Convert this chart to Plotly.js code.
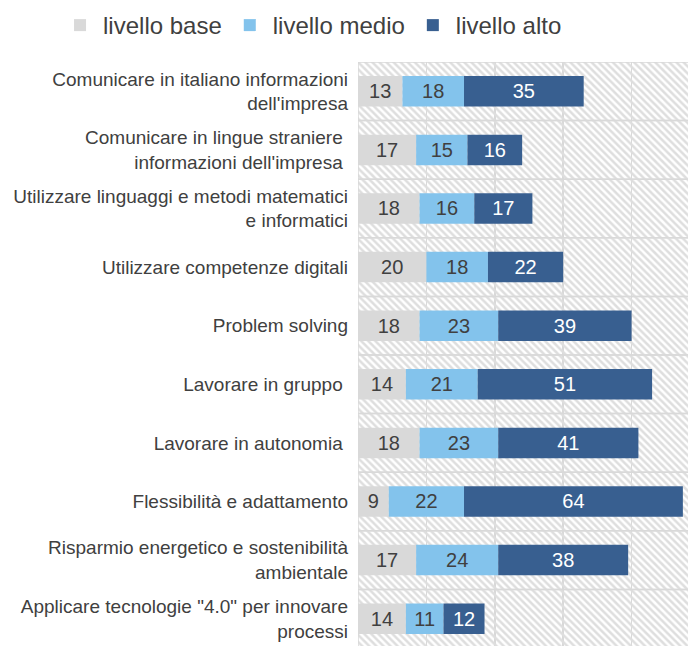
<!DOCTYPE html>
<html>
<head>
<meta charset="utf-8">
<script src="https://cdn.plot.ly/plotly-3.0.1.min.js"></script>
<style>html,body{margin:0;padding:0;background:#fff;}</style>
</head>
<body>
<div id="chart" style="width:688px;height:646px;"></div>
<script>
const categories = [
  "Comunicare in italiano informazioni<br>dell'impresa",
  "Comunicare in lingue straniere\u00a0<br>informazioni dell'impresa\u00a0",
  "Utilizzare linguaggi e metodi matematici<br>e informatici",
  "Utilizzare competenze digitali",
  "Problem solving",
  "Lavorare in gruppo\u00a0",
  "Lavorare in autonomia\u00a0",
  "Flessibilità e adattamento",
  "Risparmio energetico e sostenibilità<br>ambientale",
  "Applicare tecnologie \"4.0\" per innovare<br>processi"
];
const livelloBase  = [13, 17, 18, 20, 18, 14, 18, 9, 17, 14];
const livelloMedio = [18, 15, 16, 18, 23, 21, 23, 22, 24, 11];
const livelloAlto  = [35, 16, 17, 22, 39, 51, 41, 64, 38, 12];
const seriesNames = ["livello base", "livello medio", "livello alto"];

const baseMedio = livelloBase.slice();
const baseAlto = livelloBase.map((v, i) => v + livelloMedio[i]);

const fontFamily = "Liberation Sans, Arial, sans-serif";

const background = {
  type: "bar", orientation: "h",
  x: categories.map(() => 200), y: categories, width: 1,
  marker: {
    color: "rgba(255,255,255,0)",
    line: {color: "#d9d9d9", width: 1.5},
    pattern: {shape: "\\", fgcolor: "#dedede", size: 5, solidity: 0.5}
  },
  showlegend: false, hoverinfo: "skip"
};

function series(name, vals, base, color, textColor) {
  return {
    type: "bar", orientation: "h", name: name,
    x: vals, y: categories, base: base, width: 0.52,
    marker: {color: color, line: {width: 0}},
    text: vals.map(String), textposition: "inside", insidetextanchor: "middle",
    textangle: 0, constraintext: "none",
    insidetextfont: {family: fontFamily, size: 20, color: textColor}
  };
}

const traces = [
  background,
  series(seriesNames[0], livelloBase, 0, "#d9d9d9", "#404040"),
  series(seriesNames[1], livelloMedio, baseMedio, "#83c3ec", "#404040"),
  series(seriesNames[2], livelloAlto, baseAlto, "#385f90", "#ffffff")
];

const layout = {
  width: 688, height: 646,
  margin: {l: 358, r: 0, t: 62, b: 0, pad: 0},
  paper_bgcolor: "#ffffff", plot_bgcolor: "#ffffff",
  barmode: "overlay",
  showlegend: true,
  legend: {
    orientation: "h", xref: "paper", yref: "paper",
    x: -0.912, y: 1.101, xanchor: "left", yanchor: "top",
    font: {family: fontFamily, size: 24, color: "#404040"},
    itemwidth: 36, traceorder: "normal", bgcolor: "rgba(0,0,0,0)"
  },
  xaxis: {
    range: [0, 96.5], dtick: 20, tick0: 0,
    showgrid: true, gridcolor: "#d9d9d9", gridwidth: 1.5,
    showticklabels: false, zeroline: false, showline: false, ticks: "",
    fixedrange: true
  },
  yaxis: {
    type: "category", range: [9.466, -0.5], automargin: false,
    showgrid: false, zeroline: false, showline: false, ticks: "",
    ticklabelstandoff: 9,
    tickfont: {family: fontFamily, size: 19, color: "#404040"},
    fixedrange: true
  }
};

Plotly.newPlot("chart", traces, layout, {displayModeBar: false, staticPlot: true});
</script>
</body>
</html>
